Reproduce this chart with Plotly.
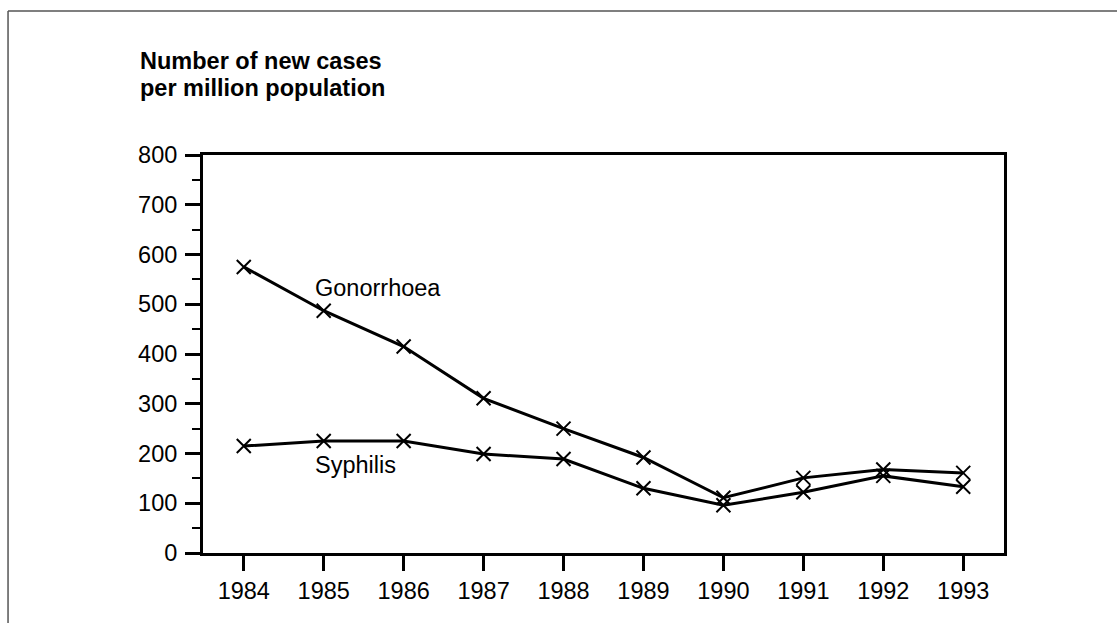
import plotly.graph_objects as go

# Annual new cases per million population
years = [1984, 1985, 1986, 1987, 1988, 1989, 1990, 1991, 1992, 1993]
gonorrhoea = [575, 487, 415, 311, 250, 192, 111, 151, 168, 161]
syphilis = [215, 225, 225, 199, 189, 130, 96, 122, 155, 133]
y_ticks = [0, 100, 200, 300, 400, 500, 600, 700, 800]
title_lines = ["Number of new cases", "per million population"]

FONT = "Liberation Sans, Arial, sans-serif"
FS = 23.5

fig = go.Figure()
for name, vals in [("Gonorrhoea", gonorrhoea), ("Syphilis", syphilis)]:
    fig.add_trace(go.Scatter(
        x=years, y=vals, name=name, mode="lines+markers",
        line=dict(color="black", width=3),
        marker=dict(symbol="x-thin-open", size=14, color="black",
                    line=dict(color="black", width=2)),
        showlegend=False, cliponaxis=False,
    ))

# Series labels placed beside their lines
fig.add_annotation(x=1984.87, y=532, text="Gonorrhoea", showarrow=False,
                   xanchor="left", yanchor="middle",
                   font=dict(family=FONT, size=FS, color="black"))
fig.add_annotation(x=1984.87, y=176, text="Syphilis", showarrow=False,
                   xanchor="left", yanchor="middle",
                   font=dict(family=FONT, size=FS, color="black"))

# Axis title in the top-left corner, one annotation per line
for line_text, ypos in zip(title_lines, [1.236, 1.168]):
    fig.add_annotation(x=-0.0815, y=ypos, xref="paper", yref="paper",
                       text=f"<b>{line_text}</b>", showarrow=False,
                       xanchor="left", yanchor="middle", align="left",
                       font=dict(family=FONT, size=FS, color="black"))

# Outer frame lines (top and left)
frame = dict(color="#555555", width=1.5)
fig.add_shape(type="line", xref="paper", yref="paper",
              x0=-0.2434, x1=1.2, y0=1.3618, y1=1.3618, line=frame)
fig.add_shape(type="line", xref="paper", yref="paper",
              x0=-0.2434, x1=-0.2434, y0=1.3618, y1=-0.2, line=frame)

fig.update_layout(
    width=1117, height=623,
    margin=dict(l=203, r=113, t=155, b=70),
    paper_bgcolor="white", plot_bgcolor="white",
    font=dict(family=FONT, size=FS, color="black"),
    xaxis=dict(
        range=[1983.49, 1993.51], tickvals=years,
        ticks="outside", ticklen=15, tickwidth=3, tickcolor="black",
        showline=True, linewidth=3, linecolor="black", mirror=True,
        showgrid=False, zeroline=False, ticklabelstandoff=0,
    ),
    yaxis=dict(
        range=[0, 800], tickvals=y_ticks,
        ticks="outside", ticklen=15, tickwidth=3, tickcolor="black",
        minor=dict(dtick=50, ticks="outside", ticklen=8, tickwidth=2,
                   tickcolor="black", showgrid=False),
        showline=True, linewidth=3, linecolor="black", mirror=True,
        showgrid=False, zeroline=False, ticklabelstandoff=3,
    ),
)

fig.write_html("out.html")
